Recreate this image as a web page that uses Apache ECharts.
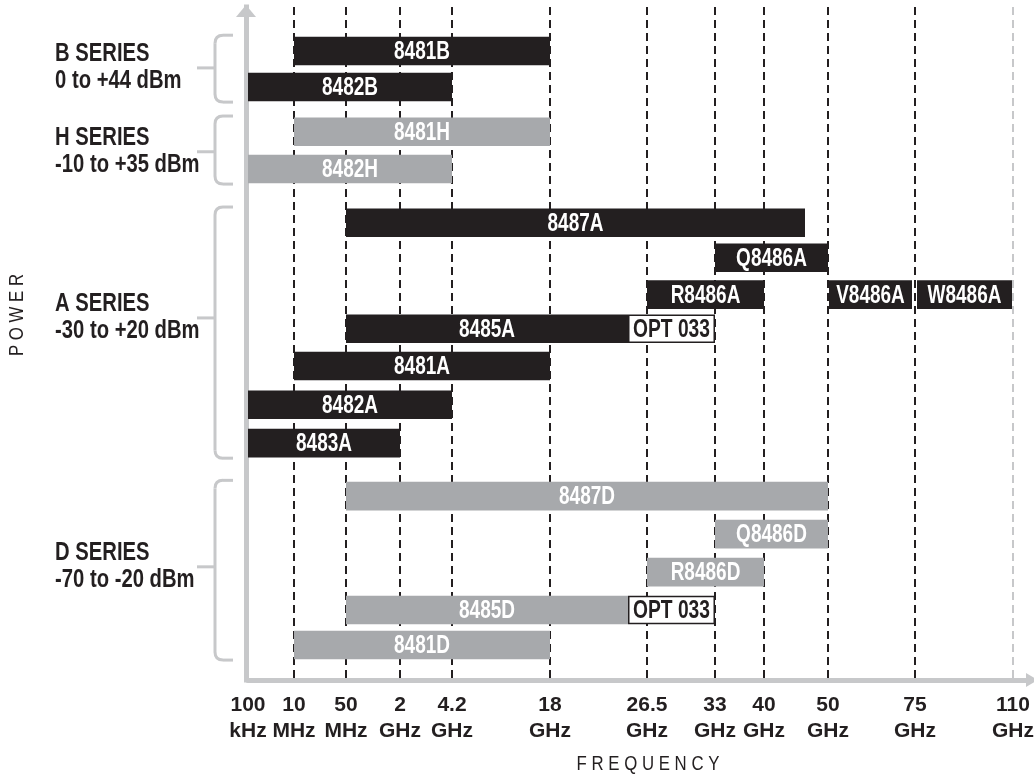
<!DOCTYPE html>
<html>
<head>
<meta charset="utf-8">
<script src="https://cdn.jsdelivr.net/npm/echarts@6/dist/echarts.min.js"></script>
<style>html,body{margin:0;padding:0;background:#fff}#c{width:1034px;height:779px}</style>
</head>
<body>
<div id="c"></div>
<script>
// ---- DATA ----
// Frequency tick labels and their positions on the schematic (non-linear) frequency axis
const freqLabels = ['100\nkHz','10\nMHz','50\nMHz','2\nGHz','4.2\nGHz','18\nGHz','26.5\nGHz','33\nGHz','40\nGHz','50\nGHz','75\nGHz','110\nGHz'];
const freqAxisPos = [0, 46, 98, 152, 204, 302, 399, 467, 516, 580, 667, 765];

// Sensor bars (start / end on the frequency axis, row on the power axis)
const barNames  = ['8481B','8482B','8481H','8482H','8487A','Q8486A','R8486A','V8486A','W8486A','8485A','8481A','8482A','8483A','8487D','Q8486D','R8486D','8485D','8481D'];
const barStart  = [46, 0, 46, 0, 98, 467, 399, 581, 669, 98, 46, 0, 0, 98, 467, 399, 98, 46];
const barEnd    = [302, 204, 302, 204, 557, 580, 516, 664, 764, 380, 302, 204, 152, 580, 580, 516, 380, 302];
const barRow    = [0, 0.96, 2.15, 3.14, 4.57, 5.5, 6.48, 6.48, 6.48, 7.39, 8.38, 9.41, 10.43, 11.84, 12.85, 13.86, 14.87, 15.8];
const barGroup  = [0, 0, 1, 1, 2, 2, 2, 2, 2, 2, 2, 2, 2, 3, 3, 3, 3, 3];

// Option 033 extensions
const optNames = ['OPT 033', 'OPT 033'];
const optStart = [380, 380];
const optEnd   = [467, 467];
const optRow   = [7.39, 14.87];

// Series groups
const groupNames  = ['B SERIES', 'H SERIES', 'A SERIES', 'D SERIES'];
const groupRanges = ['0 to +44 dBm', '-10 to +35 dBm', '-30 to +20 dBm', '-70 to -20 dBm'];
const groupLabelRow = [0.45, 2.68, 7.1, 13.72];

// ---- STYLE ----
const FONT = '"Liberation Sans", Arial, sans-serif';
const INK = '#231f20';
const GREY_BAR = '#a7a9ac';
const AXIS_GREY = '#c7c8ca';
const groupColor = [INK, GREY_BAR, INK, GREY_BAR];

const chart = echarts.init(document.getElementById('c'), null, {renderer: 'canvas'});

function condText(txt, x, y, fill, size, sx) {
  return {
    type: 'text', x: x, y: y, scaleX: sx, scaleY: 1,
    style: {text: txt, x: 0, y: 0, align: 'center', verticalAlign: 'middle',
            fill: fill, font: 'bold ' + size + 'px ' + FONT}
  };
}

const option = {
  animation: false,
  backgroundColor: '#fff',
  grid: {left: 248, right: 4, top: 7, bottom: 99, outerBoundsMode: 'none', containLabel: false},
  xAxis: {
    type: 'value', min: 0, max: 782,
    axisLine: {show: true, onZero: false, symbol: ['none', 'triangle'], symbolSize: [14, 12], symbolOffset: [0, 2],
               lineStyle: {color: AXIS_GREY, width: 5}},
    axisTick: {show: false},
    splitLine: {show: false},
    axisLabel: {
      show: true, customValues: freqAxisPos, margin: 12,
      formatter: function (v) { const i = freqAxisPos.indexOf(v); return i >= 0 ? freqLabels[i] : ''; },
      color: INK, fontSize: 21, fontWeight: 'bold', fontFamily: FONT, lineHeight: 26
    }
  },
  yAxis: {
    type: 'value', inverse: true, min: -1.17, max: 16.73, offset: 2,
    axisLine: {show: true, onZero: false, symbol: ['none', 'triangle'], symbolSize: [20, 12], symbolOffset: [0, -4],
               lineStyle: {color: AXIS_GREY, width: 5, cap: 'square'}},
    axisTick: {show: false}, axisLabel: {show: false}, splitLine: {show: false}
  },
  graphic: [
    {type: 'text', x: 17, y: 315, rotation: Math.PI / 2, scaleX: 0.8,
     style: {text: 'P O W E R', align: 'center', verticalAlign: 'middle', fill: INK,
             font: 'normal 21px ' + FONT}},
    {type: 'text', x: 648, y: 764, scaleX: 0.8,
     style: {text: 'F R E Q U E N C Y', align: 'center', verticalAlign: 'middle', fill: INK,
             font: 'normal 21px ' + FONT}}
  ],
  series: [
    {
      type: 'line', data: [], z: 1, silent: true,
      markLine: {
        z: 1, silent: true, symbol: ['none', 'none'], label: {show: false},
        lineStyle: {type: [8, 5], width: 2, color: INK},
        data: freqAxisPos.slice(1).map(function (v, i, arr) {
          return {xAxis: v, lineStyle: {color: i === arr.length - 1 ? AXIS_GREY : INK, type: [8, 5], width: 2}};
        })
      }
    },
    {
      type: 'custom', z: 3, silent: true,
      encode: {x: [0, 1], y: 2},
      data: barNames.map(function (n, i) { return [barStart[i], barEnd[i], barRow[i]]; }),
      renderItem: function (params, api) {
        const i = params.dataIndex;
        const p1 = api.coord([api.value(0), api.value(2)]);
        const p2 = api.coord([api.value(1), api.value(2)]);
        const h = api.size([0, 0.76])[1];
        return {type: 'group', children: [
          {type: 'rect', shape: {x: p1[0], y: p1[1] - h / 2, width: p2[0] - p1[0], height: h},
           style: {fill: groupColor[barGroup[i]]}},
          condText(barNames[i], (p1[0] + p2[0]) / 2, p1[1] + 1, '#ffffff', 25, 0.76)
        ]};
      }
    },
    {
      type: 'custom', z: 4, silent: true,
      encode: {x: [0, 1], y: 2},
      data: optNames.map(function (n, i) { return [optStart[i], optEnd[i], optRow[i]]; }),
      renderItem: function (params, api) {
        const i = params.dataIndex;
        const p1 = api.coord([api.value(0), api.value(2)]);
        const p2 = api.coord([api.value(1), api.value(2)]);
        const h = api.size([0, 0.76])[1];
        return {type: 'group', children: [
          {type: 'rect', shape: {x: p1[0] + 0.75, y: p1[1] - h / 2 + 0.75, width: p2[0] - p1[0] - 1.5, height: h - 1.5},
           style: {fill: '#ffffff', stroke: INK, lineWidth: 1.5}},
          condText(optNames[i], (p1[0] + p2[0]) / 2, p1[1] + 1, INK, 25, 0.77)
        ]};
      }
    },
    {
      type: 'custom', z: 2, silent: true, clip: false,
      encode: {y: 0},
      data: groupNames.map(function (n, gi) { return [groupLabelRow[gi]]; }),
      renderItem: function (params, api) {
        const gi = params.dataIndex;
        const rows = barRow.filter(function (r, k) { return barGroup[k] === gi; });
        const top = api.coord([0, Math.min.apply(null, rows) - 0.42])[1];
        const bot = api.coord([0, Math.max.apply(null, rows) + 0.4])[1];
        const mid = api.coord([0, api.value(0)])[1];
        const ls = {stroke: AXIS_GREY, lineWidth: 3, fill: null};
        const xv = 215, xe = 233, rr = 8, xt = 197;
        const children = [
          {type: 'line', shape: {x1: xe, y1: top, x2: xv + rr, y2: top}, style: ls},
          {type: 'bezierCurve', shape: {x1: xv + rr, y1: top, x2: xv, y2: top + rr, cpx1: xv, cpy1: top}, style: ls},
          {type: 'line', shape: {x1: xv, y1: top + rr, x2: xv, y2: bot - rr}, style: ls},
          {type: 'bezierCurve', shape: {x1: xv, y1: bot - rr, x2: xv + rr, y2: bot, cpx1: xv, cpy1: bot}, style: ls},
          {type: 'line', shape: {x1: xv + rr, y1: bot, x2: xe, y2: bot}, style: ls},
          {type: 'line', shape: {x1: xt, y1: mid, x2: xv, y2: mid}, style: ls},
          {type: 'text', x: 55, y: mid, scaleX: 0.81,
           style: {text: groupNames[gi] + '\n' + groupRanges[gi], x: 0, y: 0, align: 'left', verticalAlign: 'middle',
                   fill: INK, font: 'bold 25px ' + FONT, lineHeight: 27}}
        ];
        return {type: 'group', children: children};
      }
    }
  ]
};
chart.setOption(option);
</script>
</body>
</html>
